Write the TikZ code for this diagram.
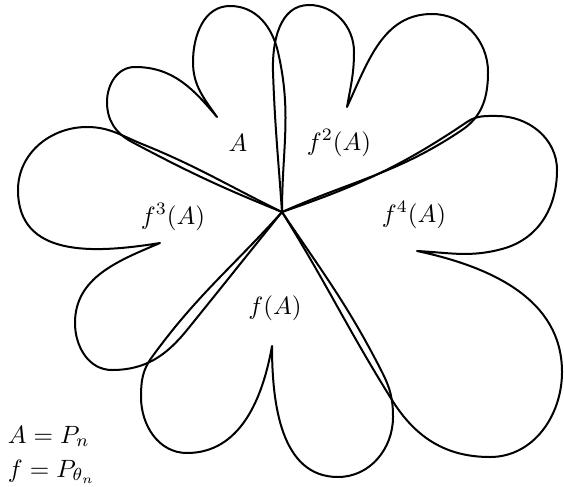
\documentclass[tikz,border=0pt]{standalone}
\usepackage{amsmath}
\usepackage{tikz}
\tikzset{
  petalo/.style={draw=black, thick, line join=round},
  etiq/.style={inner sep=1pt, font=\normalsize},
}
\begin{document}
\begin{tikzpicture}[x=0.4pt, y=0.4pt]
\useasboundingbox (-282,-274) rectangle (282,212);
\coordinate (O) at (0,0);
\coordinate (cA) at (-65,95);
\coordinate (cfA) at (-10,-134);
\coordinate (cf2A) at (65,105);
\coordinate (cf3A) at (-122,-31);
\coordinate (cf4A) at (135,-39);
\draw[petalo] (O) to[out=158,in=-28] (-150,70) to[out=152,in=-90] (-175,110) to[out=90,in=180] (-147,145) to[out=0,in=130] (cA)
  to[out=125,in=-90] (-89,150) to[out=90,in=180] (-52,206) to[out=0,in=103] (-4,160) to[out=-77,in=90] (O) -- cycle;
\draw[petalo] (O) to[out=-56,in=117] (100,-160) to[out=-63,in=90] (111,-205) to[out=-90,in=0] (56,-265) to[out=180,in=-90] (cfA)
  to[out=-100,in=0] (-95,-241) to[out=180,in=-90] (-141,-185) to[out=90,in=-126] (-130,-145) to[out=54,in=-132] (O) -- cycle;
\draw[petalo] (O) to[out=94,in=-88] (-9,140) to[out=92,in=180] (27,207) to[out=0,in=90] (72,160) to[out=-90,in=80] (cf2A)
  to[out=65,in=180] (150,198) to[out=0,in=90] (206,140) to[out=-90,in=34] (180,82) to[out=214,in=24] (O) -- cycle;
\draw[petalo] (O) to[out=231,in=51] (-95,-118) to[out=231,in=0] (-170,-158) to[out=180,in=-90] (-207,-111) to[out=90,in=203] (cf3A)
  .. controls (-190,-42) and (-264,-45) .. (-264,22) to[out=90,in=180] (-195,85) to[out=0,in=158] (-140,68) to[out=-22,in=154] (O) -- cycle;
\draw[petalo] (O) to[out=19,in=214] (185,90) to[out=34,in=180] (215,96) to[out=0,in=90] (275,42) to[out=-90,in=15] (220,-37) to[out=195,in=-3] (cf4A)
  to[out=-12,in=90] (280,-160) to[out=-90,in=0] (208,-245) to[out=180,in=-58] (110,-188) to[out=122,in=-58] (O) -- cycle;
\node[etiq] (A) at (-44,69) {$A$};
\node[etiq] (fA) at (-7,-96) {$f(A)$};
\node[etiq] (f2A) at (57,69) {$f^2(A)$};
\node[etiq] (f3A) at (-109,-5) {$f^3(A)$};
\node[etiq] (f4A) at (132,-3) {$f^4(A)$};
\node[etiq, anchor=base west] (defA) at (-277,-231) {$A = P_n$};
\node[etiq, anchor=base west] (deff) at (-277,-265) {$f = P_{\theta_n}$};
\end{tikzpicture}
\end{document}
